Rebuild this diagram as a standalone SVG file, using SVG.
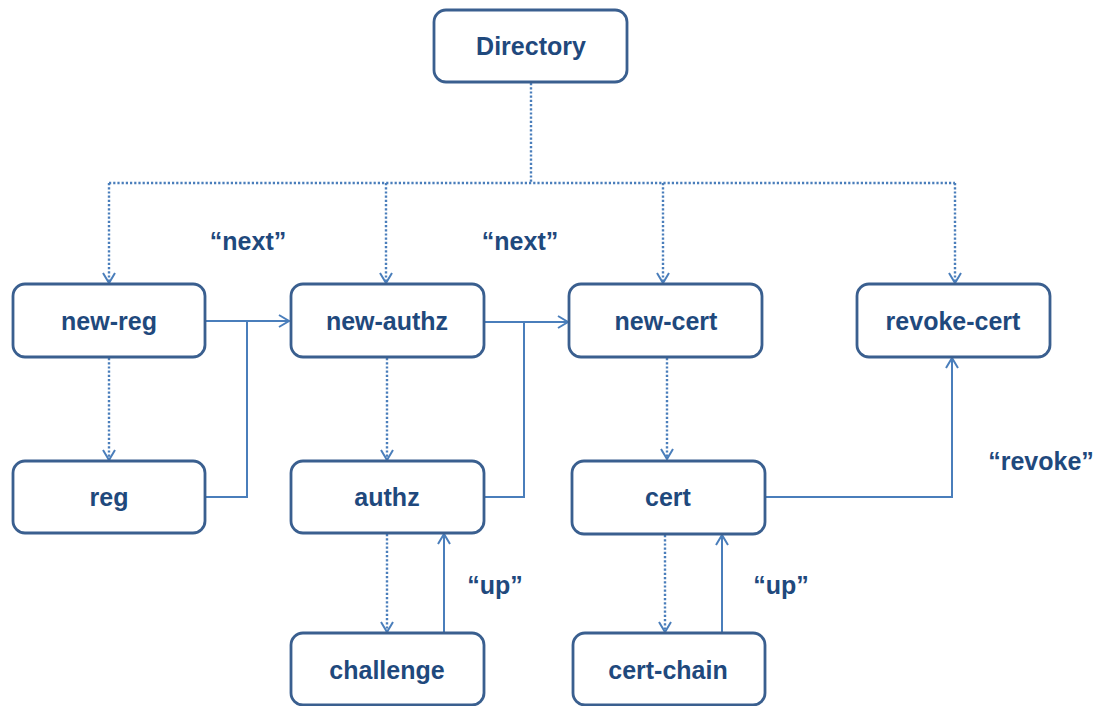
<svg xmlns="http://www.w3.org/2000/svg" width="1099" height="706" viewBox="0 0 1099 706">
<style>
.box{fill:#fff;stroke:#3a5f8f;stroke-width:2.8}
.lbl{font-family:"Liberation Sans",Arial,sans-serif;font-weight:bold;font-size:25px;fill:#1f497d;text-anchor:middle}
.solid{fill:none;stroke:#4a7ebb;stroke-width:2}
.dot{fill:none;stroke:#4a7ebb;stroke-width:2.4;stroke-dasharray:2.2 2}
</style>
<defs>
<marker id="ah" markerWidth="14" markerHeight="14" refX="12" refY="7" orient="auto" markerUnits="userSpaceOnUse">
<path d="M2,1 L12,7 L2,13" fill="none" stroke="#4a7ebb" stroke-width="2"/>
</marker>
</defs>
<g id="connectors">
<path class="dot" d="M531,83 V183"/>
<path class="dot" d="M109,183 H955"/>
<path class="dot" d="M109,183 V283" marker-end="url(#ah)"/>
<path class="dot" d="M386,183 V283" marker-end="url(#ah)"/>
<path class="dot" d="M663,183 V283" marker-end="url(#ah)"/>
<path class="dot" d="M955,183 V283" marker-end="url(#ah)"/>
<path class="dot" d="M109,358 V460" marker-end="url(#ah)"/>
<path class="dot" d="M387,358 V460" marker-end="url(#ah)"/>
<path class="dot" d="M387,534 V632" marker-end="url(#ah)"/>
<path class="dot" d="M667,358 V459" marker-end="url(#ah)"/>
<path class="dot" d="M665,535 V632" marker-end="url(#ah)"/>
<path class="solid" d="M205,321 H289" marker-end="url(#ah)"/>
<path class="solid" d="M205,497 H247 V321"/>
<path class="solid" d="M484,322 H568" marker-end="url(#ah)"/>
<path class="solid" d="M484,497 H524 V322"/>
<path class="solid" d="M765,497 H952 V358" marker-end="url(#ah)"/>
<path class="solid" d="M444,633 V534" marker-end="url(#ah)"/>
<path class="solid" d="M722,633 V535" marker-end="url(#ah)"/>
</g>
<g id="labels">
<text class="lbl" x="248" y="250">“next”</text>
<text class="lbl" x="520" y="250">“next”</text>
<text class="lbl" x="1041" y="470">“revoke”</text>
<text class="lbl" x="495" y="594">“up”</text>
<text class="lbl" x="781" y="594">“up”</text>
</g>
<g id="directory"><rect class="box" x="434" y="10" width="193" height="72" rx="12"/><text class="lbl" x="531" y="55">Directory</text></g>
<g id="new-reg"><rect class="box" x="13" y="284" width="192" height="73" rx="12"/><text class="lbl" x="109" y="330">new-reg</text></g>
<g id="new-authz"><rect class="box" x="291" y="284" width="193" height="73" rx="12"/><text class="lbl" x="387" y="330">new-authz</text></g>
<g id="new-cert"><rect class="box" x="569" y="284" width="193" height="73" rx="12"/><text class="lbl" x="666" y="330">new-cert</text></g>
<g id="revoke-cert"><rect class="box" x="857" y="284" width="193" height="73" rx="12"/><text class="lbl" x="953" y="330">revoke-cert</text></g>
<g id="reg"><rect class="box" x="13" y="461" width="192" height="72" rx="12"/><text class="lbl" x="109" y="506">reg</text></g>
<g id="authz"><rect class="box" x="291" y="461" width="193" height="72" rx="12"/><text class="lbl" x="387" y="506">authz</text></g>
<g id="cert"><rect class="box" x="572" y="461" width="193" height="73" rx="12"/><text class="lbl" x="668" y="506">cert</text></g>
<g id="challenge"><rect class="box" x="291" y="633" width="193" height="72" rx="12"/><text class="lbl" x="387" y="679">challenge</text></g>
<g id="cert-chain"><rect class="box" x="573" y="633" width="192" height="72" rx="12"/><text class="lbl" x="668" y="679">cert-chain</text></g>
</svg>
